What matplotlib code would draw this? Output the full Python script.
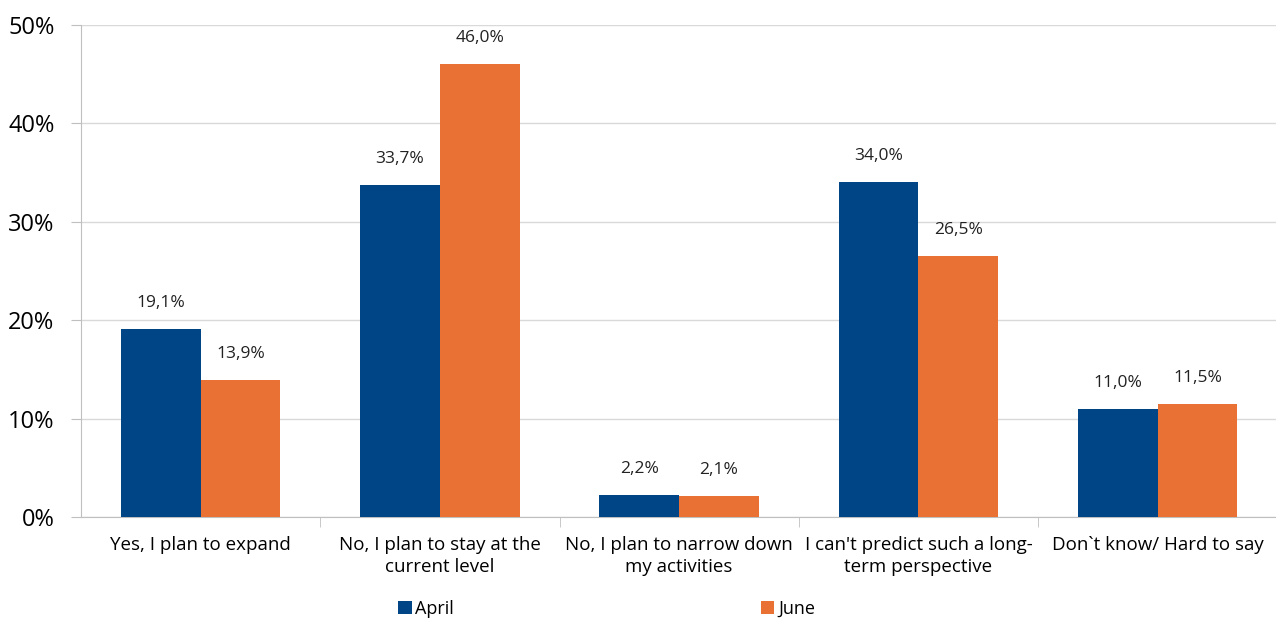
import matplotlib.pyplot as plt
import numpy as np

# Survey answers, April vs June
categories = [
    "Yes, I plan to expand",
    "No, I plan to stay at the\ncurrent level",
    "No, I plan to narrow down\nmy activities",
    "I can't predict such a long-\nterm perspective",
    "Don`t know/ Hard to say",
]
april = [19.1, 33.7, 2.2, 34.0, 11.0]
june = [13.9, 46.0, 2.1, 26.5, 11.5]
series_names = ["April", "June"]

plt.rcParams['font.family'] = ['Open Sans', 'DejaVu Sans']

fig = plt.figure(figsize=(12.76, 6.19), dpi=100)
ax = fig.add_axes([81 / 1276, 102 / 619, 1 - 81 / 1276 + 0.001, 492 / 619])

x = np.arange(len(categories))
w = 1 / 3
bars_a = ax.bar(x - w / 2, april, w, color='#004586', label=series_names[0], zorder=3)
bars_j = ax.bar(x + w / 2, june, w, color='#EA7134', label=series_names[1], zorder=3)

def fmt(v):
    return f"{v:.1f}%".replace(".", ",")

for bars, vals in ((bars_a, april), (bars_j, june)):
    for b, v in zip(bars, vals):
        ax.annotate(fmt(v), (b.get_x() + b.get_width() / 2, v),
                    xytext=(0, 13), textcoords='offset points',
                    ha='center', va='bottom', fontsize=12.5, color='#222222')

ax.set_xlim(-0.5, len(categories) - 0.5)
ax.set_ylim(0, 50)
ax.set_yticks(np.arange(0, 51, 10))
ax.set_yticklabels([f"{t}%" for t in range(0, 51, 10)], fontsize=17)
ax.yaxis.grid(True, color='#D9D9D9', linewidth=1, zorder=0)
ax.tick_params(axis='y', length=7, color='#BFBFBF', pad=12)

# category labels under the bars, tick marks between groups
ax.set_xticks(x)
ax.set_xticklabels(categories, fontsize=13.5, linespacing=1.25)
ax.tick_params(axis='x', length=0, pad=14)
ax.set_xticks(np.arange(0.5, len(categories) - 0.5), minor=True)
ax.tick_params(axis='x', which='minor', length=7, color='#BFBFBF')

for s in ('top', 'right'):
    ax.spines[s].set_visible(False)
for s in ('left', 'bottom'):
    ax.spines[s].set_color('#BFBFBF')

fig.legend(loc='center left', bbox_to_anchor=(398 / 1276, 10 / 619), ncol=2,
           frameon=False, fontsize=13, handlelength=0.75, handleheight=0.75,
           handletextpad=0.2, columnspacing=17.0, borderpad=0, borderaxespad=0)

fig.savefig("out.png", dpi=100)
